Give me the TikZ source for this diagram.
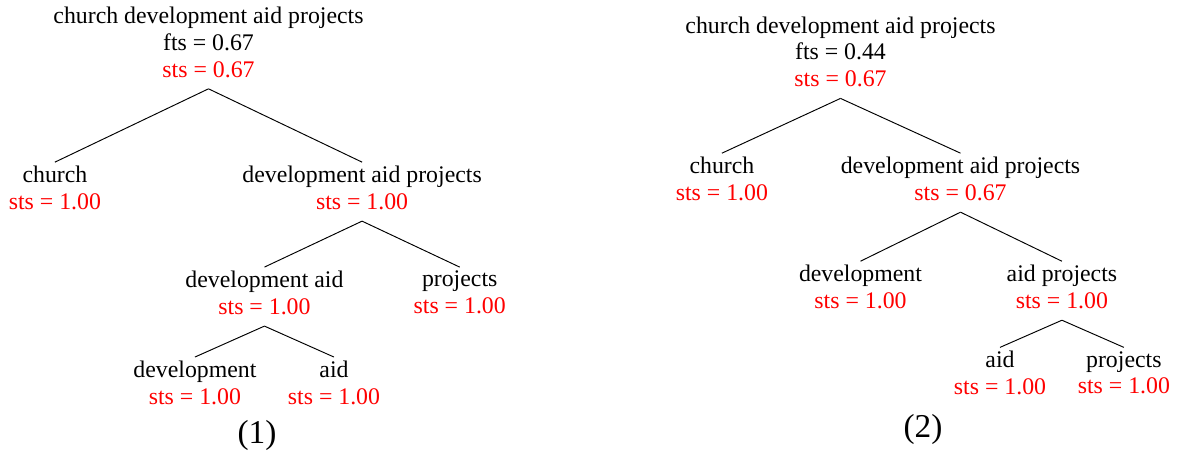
\documentclass[tikz,border=0pt]{standalone}
\usepackage{fontspec}
\setmainfont{Liberation Serif}
\usetikzlibrary{positioning}

\begin{document}
\begin{tikzpicture}[x=0.42pt, y=0.42pt, nodes={align=center, inner sep=0pt, font=\fontsize{10}{11.2}\selectfont}]
	\useasboundingbox (0,0) rectangle (1178,-455);
	\node (cdap1) [anchor=north] at (208.5,-6.7) {church development aid projects\\ fts = 0.67\\ \textcolor{red}{sts = 0.67}};
	\node (ch1) [below=36.9pt of cdap1.south, xshift=-64.5pt] {church\\ \textcolor{red}{sts = 1.00}};
	\node (dap1) [below=36.9pt of cdap1.south, xshift=64.5pt] {development aid projects\\ \textcolor{red}{sts = 1.00}};
	\node (da1) [below=25.4pt of dap1.south, xshift=-41pt] {development aid\\ \textcolor{red}{sts = 1.00}};
	\node (pr1) [below=25.4pt of dap1.south, xshift=41pt] {projects\\ \textcolor{red}{sts = 1.00}};
	\node (dev1) [below=19.1pt of da1.south, xshift=-29.2pt] {development\\ \textcolor{red}{sts = 1.00}};
	\node (aid1) [below=19.1pt of da1.south, xshift=29.2pt] {aid\\ \textcolor{red}{sts = 1.00}};
	\node (t1) [anchor=base, font=\fontsize{14}{16}\selectfont] at (257,-443) {(1)};
	\draw ([yshift=-4.6pt]cdap1.south) -- ([yshift=1.5pt]ch1.north);
	\draw ([yshift=-4.6pt]cdap1.south) -- ([yshift=1.5pt]dap1.north);
	\draw ([yshift=-4.6pt]dap1.south) -- ([yshift=1.5pt]da1.north);
	\draw ([yshift=-4.6pt]dap1.south) -- ([yshift=1.5pt]pr1.north);
	\draw ([yshift=-4.6pt]da1.south) -- ([yshift=1.5pt]dev1.north);
	\draw ([yshift=-4.6pt]da1.south) -- ([yshift=1.5pt]aid1.north);

	\node (cdap2) [anchor=north] at (840.5,-16.3) {church development aid projects\\ fts = 0.44\\ \textcolor{red}{sts = 0.67}};
	\node (ch2) [below=29.1pt of cdap2.south, xshift=-49.8pt] {church\\ \textcolor{red}{sts = 1.00}};
	\node (dap2) [below=29.1pt of cdap2.south, xshift=50.4pt] {development aid projects\\ \textcolor{red}{sts = 0.67}};
	\node (dev2) [below=26.7pt of dap2.south, xshift=-42pt] {development\\ \textcolor{red}{sts = 1.00}};
	\node (ap2) [below=26.7pt of dap2.south, xshift=42.6pt] {aid projects\\ \textcolor{red}{sts = 1.00}};
	\node (aid2) [below=17.5pt of ap2.south, xshift=-26pt] {aid\\ \textcolor{red}{sts = 1.00}};
	\node (pr2) [below=17.5pt of ap2.south, xshift=26pt] {projects\\ \textcolor{red}{sts = 1.00}};
	\node (t2) [anchor=base, font=\fontsize{14}{16}\selectfont] at (923,-437) {(2)};
	\draw ([yshift=-4.6pt]cdap2.south) -- ([yshift=1.5pt]ch2.north);
	\draw ([yshift=-4.6pt]cdap2.south) -- ([yshift=1.5pt]dap2.north);
	\draw ([yshift=-4.6pt]dap2.south) -- ([yshift=1.5pt]dev2.north);
	\draw ([yshift=-4.6pt]dap2.south) -- ([yshift=1.5pt]ap2.north);
	\draw ([yshift=-4.6pt]ap2.south) -- ([yshift=1.5pt]aid2.north);
	\draw ([yshift=-4.6pt]ap2.south) -- ([yshift=1.5pt]pr2.north);
\end{tikzpicture}
\end{document}
